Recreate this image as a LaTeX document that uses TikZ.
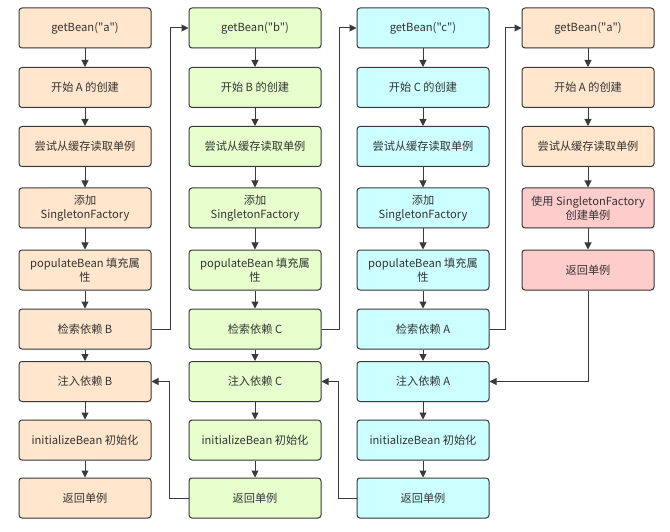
\documentclass[tikz,border=0pt]{standalone}
\usepackage{fontspec}
\setmainfont{Noto Sans CJK SC}[Ligatures=TeXOff]
\usepackage{tikz}
\usetikzlibrary{arrows.meta,positioning,shadows}
\tikzset{
  flowarrow/.style={-{Triangle[length=7pt,width=7pt]}, line width=1pt,
    draw=BeanLine},
  flowline/.style={line width=1pt, draw=BeanLine}
}
\definecolor{BeanLine}{HTML}{3A3A3A}
\definecolor{BeanText}{HTML}{333333}
\definecolor{BeanOrange}{HTML}{FFE6CC}
\definecolor{BeanGreen}{HTML}{E6FFCC}
\definecolor{BeanCyan}{HTML}{CCFFFF}
\definecolor{BeanPink}{HTML}{FFCCCC}

\begin{document}
\begin{tikzpicture}[
  x=1pt, y=-1pt,
  font=\fontsize{11.2}{13.5}\selectfont, text=BeanText,
  beanbox/.style={draw=BeanLine, line width=1pt, rounded corners=3pt, align=center,
    minimum width=132pt, minimum height=40pt, inner sep=2pt,
    drop shadow={opacity=0.12, shadow xshift=1.2pt, shadow yshift=-1.2pt}}
]
\useasboundingbox (0,0) rectangle (670,532);

% column A
\node[beanbox, fill=BeanOrange] at (85,28) (a1) {getBean("a")};
\node[beanbox, fill=BeanOrange] at (85,87.5) (a2) {开始 A 的创建};
\node[beanbox, fill=BeanOrange] at (85,146.5) (a3) {尝试从缓存读取单例};
\node[beanbox, fill=BeanOrange] at (85,208) (a4) {添加\\SingletonFactory};
\node[beanbox, fill=BeanOrange] at (85,270) (a5) {populateBean 填充属\\性};
\node[beanbox, fill=BeanOrange] at (85,329) (a6) {检索依赖 B};
\node[beanbox, fill=BeanOrange] at (85,381.5) (a7) {注入依赖 B};
\node[beanbox, fill=BeanOrange] at (85,440) (a8) {initializeBean 初始化};
\node[beanbox, fill=BeanOrange] at (85,498) (a9) {返回单例};

% column B
\node[beanbox, fill=BeanGreen] at (255,28) (b1) {getBean("b")};
\node[beanbox, fill=BeanGreen] at (255,87.5) (b2) {开始 B 的创建};
\node[beanbox, fill=BeanGreen] at (255,146.5) (b3) {尝试从缓存读取单例};
\node[beanbox, fill=BeanGreen] at (255,208) (b4) {添加\\SingletonFactory};
\node[beanbox, fill=BeanGreen] at (255,270) (b5) {populateBean 填充属\\性};
\node[beanbox, fill=BeanGreen] at (255,329) (b6) {检索依赖 C};
\node[beanbox, fill=BeanGreen] at (255,381.5) (b7) {注入依赖 C};
\node[beanbox, fill=BeanGreen] at (255,440) (b8) {initializeBean 初始化};
\node[beanbox, fill=BeanGreen] at (255,498) (b9) {返回单例};

% column C
\node[beanbox, fill=BeanCyan] at (423,28) (c1) {getBean("c")};
\node[beanbox, fill=BeanCyan] at (423,87.5) (c2) {开始 C 的创建};
\node[beanbox, fill=BeanCyan] at (423,146.5) (c3) {尝试从缓存读取单例};
\node[beanbox, fill=BeanCyan] at (423,208) (c4) {添加\\SingletonFactory};
\node[beanbox, fill=BeanCyan] at (423,270) (c5) {populateBean 填充属\\性};
\node[beanbox, fill=BeanCyan] at (423,329) (c6) {检索依赖 A};
\node[beanbox, fill=BeanCyan] at (423,381.5) (c7) {注入依赖 A};
\node[beanbox, fill=BeanCyan] at (423,440) (c8) {initializeBean 初始化};
\node[beanbox, fill=BeanCyan] at (423,498) (c9) {返回单例};

% column A again (early reference)
\node[beanbox, fill=BeanOrange] at (588,28) (d1) {getBean("a")};
\node[beanbox, fill=BeanOrange] at (588,87.5) (d2) {开始 A 的创建};
\node[beanbox, fill=BeanOrange] at (588,146.5) (d3) {尝试从缓存读取单例};
\node[beanbox, fill=BeanPink] at (588,208) (d4) {使用 SingletonFactory\\创建单例};
\node[beanbox, fill=BeanPink] at (588,270) (d5) {返回单例};

% straight steps down each column
\foreach \col/\last in {a/9, b/9, c/9, d/5} {
  \foreach \i [evaluate=\i as \j using int(\i+1)] in {1,...,\last} {
    \ifnum\i<\last
      \draw[flowarrow] (\col\i.south) -- (\col\j.north);
    \fi
  }
}

% dependency lookups jump to the next getBean
\draw[flowarrow] (a6.east) -- ++(19,0) |- (b1.west);
\draw[flowarrow] (b6.east) -- ++(18,0) |- (c1.west);
\draw[flowarrow] (c6.east) -- ++(16,0) |- (d1.west);

% returned singletons are injected back
\draw[flowarrow] (d5.south) |- (c7.east);
\draw[flowarrow] (c9.west) -- ++(-18,0) |- (b7.east);
\draw[flowarrow] (b9.west) -- ++(-19,0) |- (a7.east);
\end{tikzpicture}
\end{document}
